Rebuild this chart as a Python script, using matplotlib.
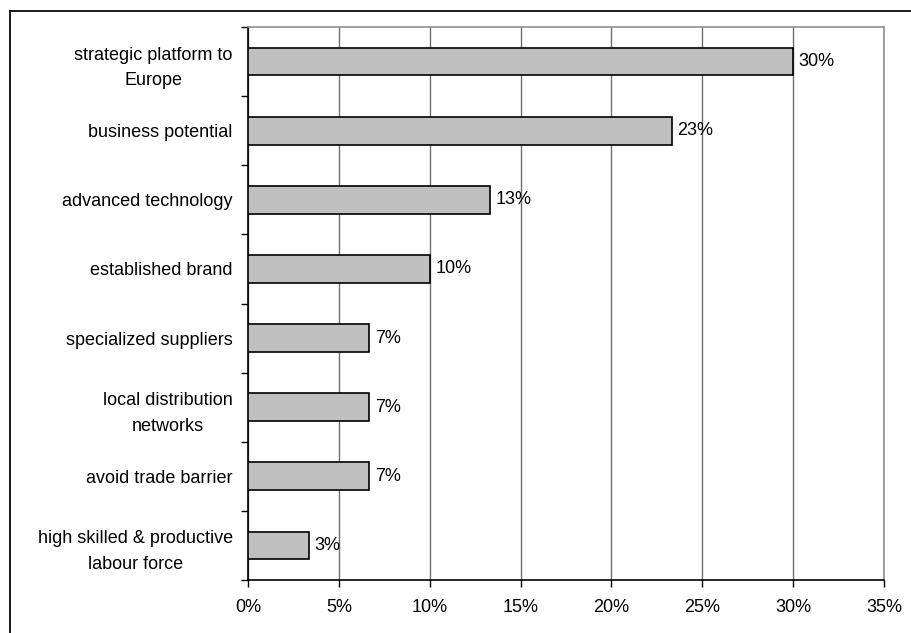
import matplotlib
matplotlib.use("Agg")
import matplotlib.pyplot as plt
from matplotlib.patches import Rectangle
from matplotlib.ticker import FixedLocator, PercentFormatter

plt.rcParams['font.family'] = ['Liberation Sans', 'DejaVu Sans']

# Reasons, listed from top to bottom
reasons = [
    "strategic platform to\nEurope",
    "business potential",
    "advanced technology",
    "established brand",
    "specialized suppliers",
    "local distribution\nnetworks",
    "avoid trade barrier",
    "high skilled & productive\nlabour force",
]
# Share of respondents (9, 7, 4, 3, 2, 2, 2, 1 out of 30)
shares = [9 / 30, 7 / 30, 4 / 30, 3 / 30, 2 / 30, 2 / 30, 2 / 30, 1 / 30]
x_ticks = [0.0, 0.05, 0.10, 0.15, 0.20, 0.25, 0.30, 0.35]

FS = 13

fig = plt.figure(figsize=(9.11, 6.33), dpi=100)

# Outer chart frame
fig.patches.append(Rectangle((10 / 911, -0.1), 1.2, 1 - 11 / 633 + 0.1,
                             transform=fig.transFigure, fill=False,
                             edgecolor='#1a1a1a', linewidth=1.4, zorder=0))

ax = fig.add_axes([248 / 911, 1 - 580 / 633, (884 - 248) / 911, (580 - 27) / 633])

n = len(reasons)
ypos = [n - 1 - i for i in range(n)]
ax.barh(ypos, shares, height=0.4, color='#c0c0c0', edgecolor='black',
        linewidth=1.2, zorder=3)

for y, v in zip(ypos, shares):
    ax.annotate(f"{v:.0%}", xy=(v, y), xytext=(4, 0), textcoords='offset points',
                ha='left', va='center', fontsize=FS, color='black', zorder=4)

ax.set_xlim(0, 0.35)
ax.set_ylim(-0.5, n - 0.5)
ax.xaxis.set_major_locator(FixedLocator(x_ticks))
ax.xaxis.set_major_formatter(PercentFormatter(1.0, decimals=0))

# Category labels centred on bars, ticks on the boundaries between them
ax.set_yticks(ypos)
ax.set_yticklabels(reasons, fontsize=FS, multialignment='center', linespacing=1.65)
ax.tick_params(axis='y', which='major', length=0, pad=11)
ax.set_yticks([k - 0.5 for k in range(n + 1)], minor=True)
ax.tick_params(axis='y', which='minor', length=5, width=1, color='black', direction='out')
ax.tick_params(axis='x', length=5, width=1, color='black', direction='out',
               labelsize=FS, pad=9)

ax.grid(axis='x', color='#707070', linewidth=1.0, zorder=1)
ax.set_axisbelow(True)

for side in ('left', 'bottom'):
    ax.spines[side].set_color('black')
    ax.spines[side].set_linewidth(1.2)
for side in ('top', 'right'):
    ax.spines[side].set_color('#909090')
    ax.spines[side].set_linewidth(1.2)

fig.savefig('out.png', dpi=100)
